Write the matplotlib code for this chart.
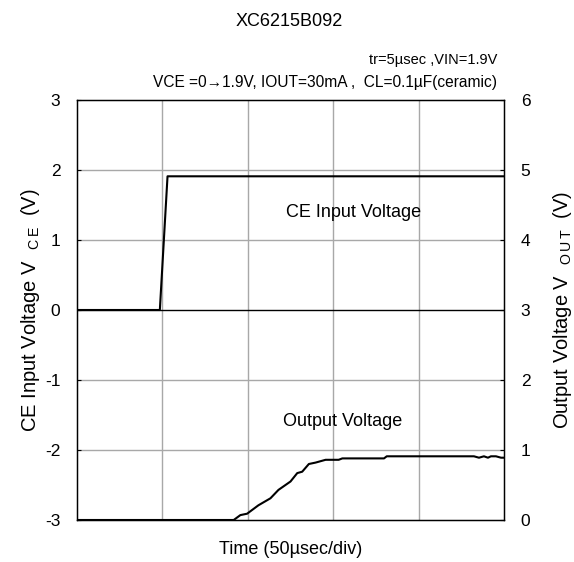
import matplotlib
matplotlib.use("Agg")
import matplotlib.pyplot as plt

plt.rcParams['font.family'] = ['Liberation Sans', 'DejaVu Sans']
plt.rcParams['mathtext.fontset'] = 'custom'
plt.rcParams['mathtext.rm'] = 'Liberation Sans'
plt.rcParams['axes.unicode_minus'] = False

# Time in divisions (50 usec/div)
ce_t = [0.0, 0.97, 1.06, 5.0]
ce_v = [0.0, 0.0, 1.91, 1.91]

out_t = [0.0, 1.835, 1.913, 1.992, 2.124, 2.265, 2.359, 2.50, 2.579, 2.637, 2.715,
         2.793, 2.911, 3.064, 3.107, 3.595, 3.627, 4.648, 4.707, 4.765, 4.812,
         4.847, 4.906, 4.965, 5.0]
out_v = [0.0, 0.0, 0.07, 0.09, 0.21, 0.31, 0.43, 0.55, 0.67, 0.69, 0.80,
         0.82, 0.86, 0.86, 0.88, 0.88, 0.91, 0.91, 0.89, 0.91, 0.89,
         0.91, 0.91, 0.89, 0.89]

left_ticks = [-3, -2, -1, 0, 1, 2, 3]
right_ticks = [0, 1, 2, 3, 4, 5, 6]

fig = plt.figure(figsize=(5.74, 5.62), dpi=100)
ax = fig.add_axes([77/574, 1-520/562, (504-77)/574, (520-100)/562])
ax.set_xlim(0, 5)
ax.set_ylim(-3, 3)
ax.set_yticks(left_ticks)
ax.set_xticks([])
for xv in [1, 2, 3, 4]:
    ax.axvline(xv, color='#a8a8a8', lw=1.0, zorder=1)
for yv in [-2, -1, 1, 2]:
    ax.axhline(yv, color='#a8a8a8', lw=1.0, zorder=1)
ax.axhline(0, color='black', lw=1.0, zorder=1)
ax.tick_params(axis='y', direction='in', length=3, labelsize=12.5, pad=12)
for s in ax.spines.values():
    s.set_linewidth(1.0)

ax.plot(ce_t, ce_v, color='black', lw=1.5, zorder=3)

ax2 = ax.twinx()
ax2.set_ylim(0, 6)
ax2.set_yticks(right_ticks)
ax2.tick_params(axis='y', direction='in', length=3, labelsize=12.5, pad=12)
ax2.plot(out_t, out_v, color='black', lw=1.5, zorder=3)

ax.set_ylabel(r"CE Input Voltage V  $_{\mathrm{C\,E}}$  (V)", fontsize=14.5, labelpad=2)
ax2.set_ylabel(r"Output Voltage V  $_{\mathrm{O\,U\,T}}$  (V)", fontsize=14.5, labelpad=15)
ax.set_xlabel("Time (50µsec/div)", fontsize=13, labelpad=15)

fig.text(289/574, 1-22/562, "XC6215B092", ha='center', va='center', fontsize=13)
fig.text(497/574, 1-60/562, "tr=5µsec ,VIN=1.9V", ha='right', va='center', fontsize=10.5)
fig.text(497/574, 1-83/562, "VCE =0→1.9V, IOUT=30mA ,  CL=0.1µF(ceramic)",
         ha='right', va='center', fontsize=11.2)

ax.text(354/574, 1-213/562, "CE Input Voltage", transform=fig.transFigure,
        ha='center', va='center', fontsize=13)
ax.text(343/574, 1-422/562, "Output Voltage", transform=fig.transFigure,
        ha='center', va='center', fontsize=13)

fig.savefig("out.png", dpi=100)
